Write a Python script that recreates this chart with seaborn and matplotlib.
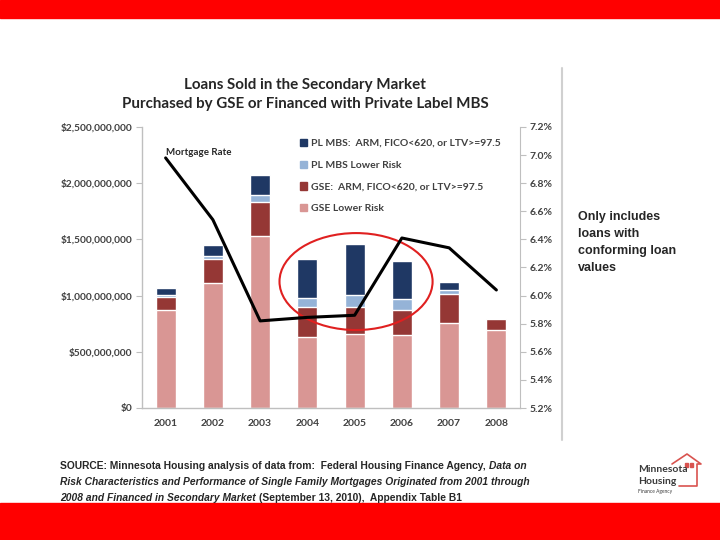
"""
Slide recreation: loans sold in the secondary market, stacked by GSE / PL MBS
risk category, with the mortgage rate on a secondary axis.
"""

import matplotlib
matplotlib.use("Agg")
import matplotlib.pyplot as plt
import matplotlib.ticker as ticker
from matplotlib import font_manager
from matplotlib.lines import Line2D
from matplotlib.patches import Ellipse, Rectangle
import numpy as np
import pandas as pd
import seaborn as sns

# ---- data (dollar values in billions) ----
years = ["2001", "2002", "2003", "2004", "2005", "2006", "2007", "2008"]
gse_lower = [0.87, 1.11, 1.53, 0.635, 0.66, 0.65, 0.76, 0.695]
gse_risk = [0.12, 0.215, 0.30, 0.26, 0.24, 0.22, 0.25, 0.10]
pl_lower = [0.015, 0.025, 0.065, 0.08, 0.105, 0.10, 0.04, 0.0]
pl_risk = [0.06, 0.10, 0.18, 0.355, 0.45, 0.34, 0.07, 0.0]
mortgage_rate = [6.98, 6.54, 5.82, 5.845, 5.86, 6.41, 6.34, 6.04]

series_labels = [
    "PL MBS:  ARM, FICO<620, or LTV>=97.5",
    "PL MBS Lower Risk",
    "GSE:  ARM, FICO<620, or LTV>=97.5",
    "GSE Lower Risk",
]
series_colors = ["#1F3864", "#95B3D7", "#953735", "#D99694"]

left_ticks = [0, 500_000_000, 1_000_000_000, 1_500_000_000, 2_000_000_000, 2_500_000_000]
right_ticks = [5.2, 5.4, 5.6, 5.8, 6.0, 6.2, 6.4, 6.6, 6.8, 7.0, 7.2]

SLIDE_RED = "#FF0000"
TEXT_DARK = "#262626"
TICK_GRAY = "#404040"
SPINE_GRAY = "#BFBFBF"


def pick_font(*names):
    for name in names:
        try:
            font_manager.findfont(font_manager.FontProperties(family=name),
                                  fallback_to_default=False)
            return name
        except ValueError:
            pass
    return "DejaVu Sans"


sns.set_style("white")
chart_font = pick_font("Lato", "Open Sans", "DejaVu Sans")
slide_font = pick_font("Liberation Sans Narrow", "Liberation Sans", "DejaVu Sans")
plt.rcParams["font.family"] = [chart_font, "DejaVu Sans"]

df = pd.DataFrame({
    "year": years,
    "gse_lower": np.array(gse_lower) * 1e9,
    "gse_risk": np.array(gse_risk) * 1e9,
    "pl_lower": np.array(pl_lower) * 1e9,
    "pl_risk": np.array(pl_risk) * 1e9,
})
# cumulative tops, drawn tallest first so each layer overlaps the one above
df["top_gse_lower"] = df["gse_lower"]
df["top_gse_risk"] = df["top_gse_lower"] + df["gse_risk"]
df["top_pl_lower"] = df["top_gse_risk"] + df["pl_lower"]
df["top_pl_risk"] = df["top_pl_lower"] + df["pl_risk"]
stack_cols = ["top_pl_risk", "top_pl_lower", "top_gse_risk", "top_gse_lower"]

fig = plt.figure(figsize=(7.2, 5.4), dpi=100)
fig.patch.set_facecolor("white")

# slide furniture
fig.patches.append(Rectangle((0, 1 - 18 / 540), 1, 18 / 540, transform=fig.transFigure,
                             color=SLIDE_RED, zorder=0))
fig.patches.append(Rectangle((0, 0), 1, 37 / 540, transform=fig.transFigure,
                             color=SLIDE_RED, zorder=0))
fig.lines.append(Line2D([562 / 720, 562 / 720], [1 - 68 / 540, 1 - 440 / 540],
                        transform=fig.transFigure, color="#D0D0D0", lw=1.5))

ax = fig.add_axes([142 / 720, 1 - 408 / 540, 378 / 720, 281 / 540])
for col, color in zip(stack_cols, series_colors):
    sns.barplot(data=df, x="year", y=col, color=color, saturation=1, width=0.42,
                errorbar=None, ax=ax, zorder=2)

ax.set_xlim(-0.5, len(years) - 0.5)
ax.set_ylim(0, 2_500_000_000)
ax.set_xlabel("")
ax.set_ylabel("")
ax.set_yticks(left_ticks)
ax.yaxis.set_major_formatter(ticker.FuncFormatter(lambda v, _: f"${v:,.0f}"))
ax.set_xticks(range(len(years)))
ax.set_xticklabels(years)
ax.set_xticks(np.arange(-0.5, len(years)), minor=True)
ax.tick_params(axis="x", which="major", length=0, pad=8, labelsize=7.5, labelcolor=TICK_GRAY)
ax.tick_params(axis="x", which="minor", length=4, color=SPINE_GRAY, direction="out")
ax.tick_params(axis="y", length=4, color=SPINE_GRAY, direction="out", pad=3,
               labelsize=7.3, labelcolor=TICK_GRAY)
for lab in ax.get_xticklabels() + ax.get_yticklabels():
    lab.set_fontweight("bold")
for side in ("top", "right"):
    ax.spines[side].set_visible(False)
for side in ("left", "bottom"):
    ax.spines[side].set_color(SPINE_GRAY)
    ax.spines[side].set_linewidth(1.0)

# mortgage rate on a secondary axis
ax2 = ax.twinx()
sns.lineplot(x=np.arange(len(years)), y=mortgage_rate, color="black", lw=2.2, ax=ax2, zorder=3)
ax2.set_ylim(5.2, 7.2)
ax2.set_xlim(-0.5, len(years) - 0.5)
ax2.set_yticks(right_ticks)
ax2.yaxis.set_major_formatter(ticker.FuncFormatter(lambda v, _: f"{v:.1f}%"))
ax2.tick_params(axis="y", length=4, color=SPINE_GRAY, direction="out", pad=3,
                labelsize=7.5, labelcolor=TICK_GRAY)
for lab in ax2.get_yticklabels():
    lab.set_fontweight("bold")
for side in ("top", "left", "bottom"):
    ax2.spines[side].set_visible(False)
ax2.spines["right"].set_color(SPINE_GRAY)

ax2.text(0, 7.02, "Mortgage Rate", ha="left", va="center", fontsize=7,
         fontweight="bold", color=TEXT_DARK)

ax2.add_patch(Ellipse((4.03, 6.10), width=3.24, height=0.69, fill=False,
                      edgecolor="#E02020", lw=1.5, zorder=1))

handles = [Rectangle((0, 0), 1, 1, color=c) for c in series_colors]
leg = ax2.legend(handles, series_labels, loc="upper left", bbox_to_anchor=(0.418, 0.958),
                 frameon=False, fontsize=7.5, handlelength=0.7, handleheight=0.7,
                 handletextpad=0.35, labelspacing=1.2, borderpad=0, borderaxespad=0)
for t in leg.get_texts():
    t.set_fontweight("bold")
    t.set_color(TICK_GRAY)

# chart title
fig.text(305 / 720, 1 - 85 / 540, "Loans Sold in the Secondary Market", ha="center",
         va="center", fontsize=10.9, fontweight="bold", color=TEXT_DARK)
fig.text(305 / 720, 1 - 104 / 540, "Purchased by GSE or Financed with Private Label MBS",
         ha="center", va="center", fontsize=10.9, fontweight="bold", color=TEXT_DARK)

# side note
note_lines = ["Only includes", "loans with", "conforming loan", "values"]
for i, line in enumerate(note_lines):
    fig.text(578 / 720, 1 - (217 + 17 * i) / 540, line, ha="left", va="center",
             fontsize=9, fontweight="bold", family=slide_font, color=TEXT_DARK)

# source note with mixed bold / bold italic runs
renderer = fig.canvas.get_renderer()
probe = fig.text(0, 0, "Risk Characteristics and Performance of Single Family Mortgages "
                 "Originated from 2001 through", fontsize=10, fontweight="bold",
                 style="italic", family=slide_font)
src_size = 10 * 470 / probe.get_window_extent(renderer).width
probe.remove()
space_px = src_size * 100 / 72 * 0.3

source_lines = [
    [("SOURCE: Minnesota Housing analysis of data from:  Federal Housing Finance Agency,", "normal"),
     ("Data on", "italic")],
    [("Risk Characteristics and Performance of Single Family Mortgages Originated from 2001 through",
      "italic")],
    [("2008 and Financed in Secondary Market", "italic"),
     ("(September 13, 2010),  Appendix Table B1", "normal")],
]
for i, runs in enumerate(source_lines):
    x_px = 60
    for text, style in runs:
        t = fig.text(x_px / 720, 1 - (466 + 16 * i) / 540, text, ha="left", va="center",
                     fontsize=src_size, fontweight="bold", style=style, family=slide_font,
                     color=TEXT_DARK)
        x_px += t.get_window_extent(renderer).width + space_px

# logo
fig.text(638 / 720, 1 - 470 / 540, "Minnesota", fontsize=7.5, fontweight="bold",
         color="#3A3A3A", ha="left", va="center")
fig.text(638 / 720, 1 - 481 / 540, "Housing", fontsize=7.5, fontweight="bold",
         color="#3A3A3A", ha="left", va="center")
fig.text(638 / 720, 1 - 491 / 540, "Finance Agency", fontsize=3.5,
         color="#3A3A3A", ha="left", va="center")
house_x = [672, 687, 701, 697, 697, 679]
house_y = [464, 454, 464, 464, 486, 486]
fig.lines.append(Line2D([v / 720 for v in house_x], [1 - v / 540 for v in house_y],
                        transform=fig.transFigure, color="#D9534F", lw=1.2))
for wx in (685, 690):
    fig.patches.append(Rectangle((wx / 720, 1 - 467 / 540), 3 / 720, 4 / 540,
                                 transform=fig.transFigure, color="#D9534F"))

fig.savefig("out.png", dpi=100)
